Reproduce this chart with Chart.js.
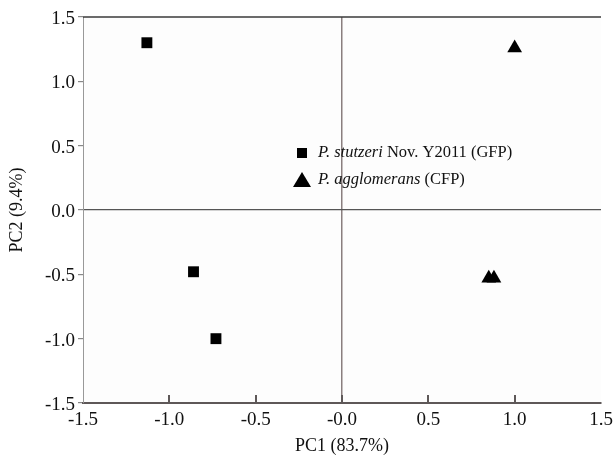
<!DOCTYPE html>
<html>
<head>
<meta charset="utf-8">
<script src="https://cdn.jsdelivr.net/npm/chart.js@4.4.1/dist/chart.umd.min.js"></script>
<style>
    html, body { margin: 0; padding: 0; background: #fff; }
</style>
</head>
<body>
<canvas id="pcaChart" width="613" height="457"></canvas>
<script>
// scores
const gfpX = [-1.13, -0.86, -0.73];
const gfpY = [1.30, -0.48, -1.0];
const cfpX = [1.0, 0.85, 0.88];
const cfpY = [1.26, -0.53, -0.53];

const xTickLabels = ["-1.5", "-1.0", "-0.5", "-0.0", "0.5", "1.0", "1.5"];
const yTickLabels = ["-1.5", "-1.0", "-0.5", "0.0", "0.5", "1.0", "1.5"];

const xTitle = "PC1 (83.7%)";
const yTitle = "PC2 (9.4%)";

const legendItems = [
    { italic: "P. stutzeri", rest: " Nov. Y2011 (GFP)", style: "rect" },
    { italic: "P. agglomerans", rest: " (CFP)", style: "triangle" },
];

const FONT = "'Liberation Serif', 'Times New Roman', serif";

const toPoints = (xs, ys) => xs.map((x, i) => ({ x: x, y: ys[i] }));

const framePlugin = {
    id: "frame",
    beforeDraw(chart) {
        const { ctx, chartArea: a } = chart;
        ctx.save();
        ctx.fillStyle = "#fdfdfd";
        ctx.fillRect(a.left, a.top, a.right - a.left, a.bottom - a.top);
        ctx.restore();
    },
    afterDraw(chart) {
        const { ctx, chartArea: a } = chart;
        const xs = chart.scales.x;
        ctx.save();
        // top border
        ctx.strokeStyle = "#3a3a3a";
        ctx.lineWidth = 1.5;
        ctx.beginPath();
        ctx.moveTo(a.left, a.top);
        ctx.lineTo(a.right, a.top);
        ctx.stroke();

        // inward ticks on x axis
        ctx.strokeStyle = "#5e5858";
        ctx.lineWidth = 2;
        xs.ticks.forEach((t, i) => {
            if (i === 0 || i === xs.ticks.length - 1) return;
            const px = Math.round(xs.getPixelForValue(t.value));
            ctx.beginPath();
            ctx.moveTo(px, a.bottom);
            ctx.lineTo(px, a.bottom - 8);
            ctx.stroke();
        });

        // legend
        const mx = a.left + 219;
        const rows = [a.top + 136, a.top + 163];
        legendItems.forEach((item, i) => {
            const y = rows[i];
            ctx.fillStyle = "#000";
            if (item.style === "rect") {
                ctx.fillRect(mx - 5, y - 5, 10, 10);
            } else {
                ctx.beginPath();
                ctx.moveTo(mx, y - 8);
                ctx.lineTo(mx + 9, y + 7);
                ctx.lineTo(mx - 9, y + 7);
                ctx.closePath();
                ctx.fill();
            }
            let tx = mx + 16;
            ctx.textBaseline = "middle";
            ctx.font = "italic 16.5px " + FONT;
            ctx.fillStyle = "#111";
            ctx.fillText(item.italic, tx, y);
            tx += ctx.measureText(item.italic).width;
            ctx.font = "16.5px " + FONT;
            ctx.fillText(item.rest, tx, y);
        });
        ctx.restore();
    },
};

new Chart(document.getElementById("pcaChart"), {
    type: "scatter",
    data: {
        datasets: [
            {
                label: legendItems[0].italic + legendItems[0].rest,
                data: toPoints(gfpX, gfpY),
                pointStyle: "rect",
                pointRadius: 7.7,
                pointHoverRadius: 7.7,
                backgroundColor: "#000",
                borderColor: "#000",
                borderWidth: 0,
            },
            {
                label: legendItems[1].italic + legendItems[1].rest,
                data: toPoints(cfpX, cfpY),
                pointStyle: "triangle",
                pointRadius: 8.5,
                pointHoverRadius: 8.5,
                backgroundColor: "#000",
                borderColor: "#000",
                borderWidth: 0,
            },
        ],
    },
    options: {
        responsive: false,
        devicePixelRatio: 1,
        animation: false,
        layout: { padding: { top: 17, right: 12, left: 0, bottom: 0 } },
        plugins: {
            legend: { display: false },
            tooltip: { enabled: false },
        },
        scales: {
            x: {
                type: "linear",
                min: -1.5,
                max: 1.5,
                afterFit: (scale) => {
                    scale.height = 54;
                    scale.paddingLeft = 0;
                    scale.paddingRight = 0;
                },
                ticks: {
                    stepSize: 0.5,
                    color: "#111",
                    font: { family: FONT, size: 19 },
                    padding: 6,
                    maxRotation: 0,
                    callback: (v, i) => xTickLabels[i],
                },
                grid: {
                    drawTicks: false,
                    color: (c) => (c.tick && c.tick.value === 0 ? "#8a7f7f" : "transparent"),
                    lineWidth: 1.5,
                },
                border: { color: "#5e5858", width: 2 },
                title: {
                    display: true,
                    text: xTitle,
                    color: "#111",
                    font: { family: FONT, size: 18 },
                    padding: { top: 0, bottom: 0 },
                },
            },
            y: {
                type: "linear",
                min: -1.5,
                max: 1.5,
                afterFit: (scale) => {
                    scale.width = 83;
                    scale.paddingTop = 0;
                    scale.paddingBottom = 0;
                },
                ticks: {
                    stepSize: 0.5,
                    color: "#111",
                    font: { family: FONT, size: 19 },
                    padding: 3,
                    labelOffset: 2,
                    callback: (v, i) => yTickLabels[i],
                },
                grid: {
                    tickLength: 5,
                    tickColor: "#888",
                    color: (c) => (c.tick && c.tick.value === 0 ? "#555" : "transparent"),
                    lineWidth: 1.2,
                },
                border: { color: "#999", width: 1 },
                title: {
                    display: true,
                    text: yTitle,
                    color: "#111",
                    font: { family: FONT, size: 18 },
                    padding: { top: 6, bottom: 0 },
                },
            },
        },
    },
    plugins: [framePlugin],
});
</script>
</body>
</html>
